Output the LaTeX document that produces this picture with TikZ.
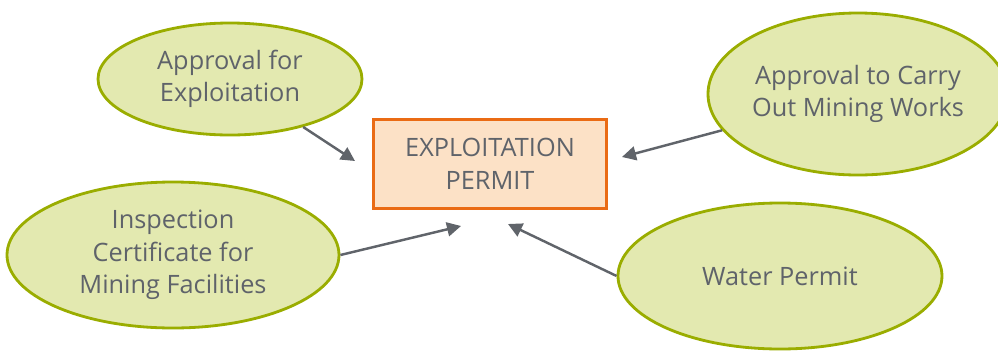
\documentclass[tikz,border=0pt]{standalone}
\usepackage{fontspec}
\setmainfont{Open Sans}
\usetikzlibrary{shapes.geometric,arrows.meta}

\definecolor{ovalfill}{HTML}{E3E9B0}
\definecolor{ovaldraw}{HTML}{9AAD00}
\definecolor{permitfill}{HTML}{FCE1C6}
\definecolor{permitdraw}{HTML}{EA6B14}
\definecolor{textgray}{HTML}{5F636A}
\definecolor{arrowgray}{HTML}{60646A}

\begin{document}
\begin{tikzpicture}[font=\fontsize{14.4}{18.5}\selectfont, text=textgray,
    oval/.style = {ellipse, draw=ovaldraw, fill=ovalfill, line width=1.6pt, inner sep=0pt, align=center},
    permit/.style = {rectangle, draw=permitdraw, fill=permitfill, line width=1.6pt, minimum width=4.66cm, minimum height=1.78cm, align=center},
    link/.style = {draw=arrowgray, line width=1.4pt, -{Triangle[length=2.8mm, width=2.8mm]}}]
            \useasboundingbox (0,0) rectangle (19.96,7);

            \node[permit] (1) at (9.8,3.72)                                        {EXPLOITATION\\PERMIT};
            \node[oval, minimum width=5.28cm, minimum height=2.24cm] (2) at (4.6,5.42)   {Approval for\\Exploitation};
            \node[oval, minimum width=6cm, minimum height=3.24cm] (3) at (17.16,5.12)    {Approval to Carry\\Out Mining Works};
            \node[oval, minimum width=6.64cm, minimum height=2.92cm] (4) at (3.46,1.9)   {Inspection\\Certificate for\\Mining Facilities};
            \node[oval, minimum width=6.48cm, minimum height=2.92cm] (5) at (15.6,1.48)  {Water Permit};

            % arrow tips stop short of the permit box
            \coordinate (t2) at (7.1,3.78);
            \coordinate (t3) at (12.44,3.86);
            \coordinate (t4) at (9.22,2.48);
            \coordinate (t5) at (10.16,2.52);

            \draw[link] (2) -- (t2);
            \draw[link] (3) -- (t3);
            \draw[link] (4.east) -- (t4);
            \draw[link] (5.west) -- (t5);
        \end{tikzpicture}
\end{document}
